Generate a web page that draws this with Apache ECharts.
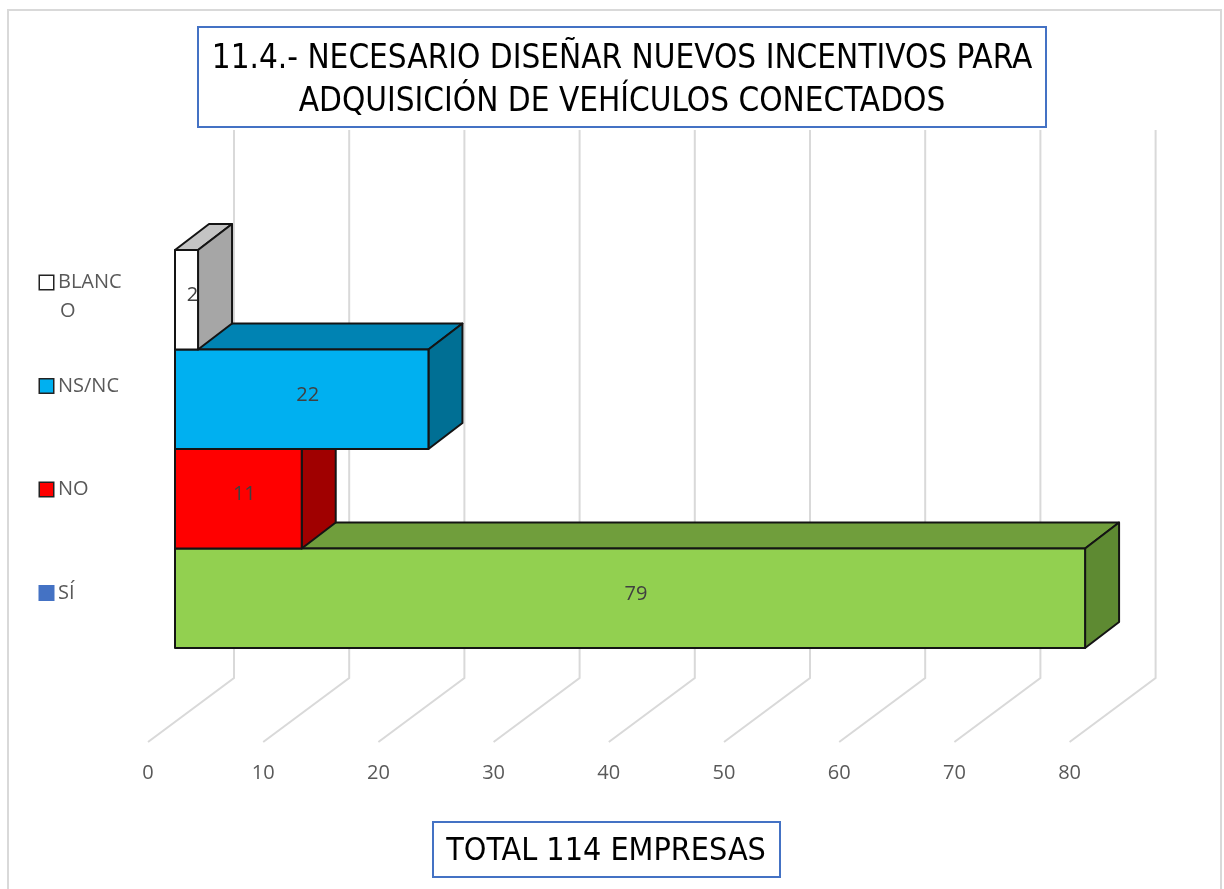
<!DOCTYPE html>
<html>
<head>
<meta charset="utf-8">
<title>11.4 Incentivos vehiculos conectados</title>
<script src="https://cdn.jsdelivr.net/npm/echarts@6/dist/echarts.min.js"></script>
<style>
    html, body { margin: 0; padding: 0; background: #fff; }
    #main { width: 1224px; height: 889px; }
</style>
</head>
<body>
<div id="main"></div>
<script>

// datos (de abajo hacia arriba, como en el eje de categorias)
var categorias = ['SÍ', 'NO', 'NS/NC', 'BLANCO'];
var valores = [79, 11, 22, 2];
var ticks = [0, 10, 20, 30, 40, 50, 60, 70, 80];

var titulo = '11.4.- NECESARIO DISEÑAR NUEVOS INCENTIVOS PARA\nADQUISICIÓN DE VEHÍCULOS CONECTADOS';
var total = 'TOTAL 114 EMPRESAS';

// colores de las caras: frontal, superior, lateral
var colorFrente = ['#92D050', '#FF0000', '#00B0F0', '#FFFFFF'];
var colorArriba = ['#709E3C', '#C00000', '#0083B3', '#C4C4C4'];
var colorLado = ['#5E8A32', '#A00000', '#006F94', '#A6A6A6'];
var colorLeyenda = ['#4472C4', '#FF0000', '#00B0F0', '#FFFFFF'];
var bordeLeyenda = ['#4472C4', '#222222', '#222222', '#222222'];

var fuente = '"Open Sans", "Liberation Sans", sans-serif';
var fuenteTitulo = '"Liberation Sans Narrow", "DejaVu Sans Condensed", "Liberation Sans", sans-serif';

var DX = 34, DY = -26;   // profundidad de las barras

var myChart = echarts.init(document.getElementById('main'));

// estilos rich para la leyenda (eje Y del grid 2)
var rich = {
    t: { fontSize: 20, fontFamily: fuente, color: '#595959', lineHeight: 29, padding: [0, 0, 0, 5] },
    sp: { width: 15, height: 29 }
};
categorias.forEach(function (c, i) {
    rich['m' + i] = {
        width: 13, height: 13,
        backgroundColor: colorLeyenda[i],
        borderColor: bordeLeyenda[i],
        borderWidth: 1.5,
        verticalAlign: 'middle'
    };
});

function rejilla(params, api) {
    var cs = params.coordSys;
    var x = api.coord([api.value(0), 0])[0];
    var top = cs.y - 120;
    var fondo = cs.y + cs.height + 30;
    var bx = x + 59;
    return {
        type: 'polyline',
        shape: { points: [[bx, top], [bx, fondo], [x - 27, fondo + 64]] },
        style: { stroke: '#D9D9D9', lineWidth: 2, fill: null },
        silent: true
    };
}

function barra3d(params, api) {
    var i = params.dataIndex;
    var v = api.value(0);
    var c = api.value(1);
    var p0 = api.coord([0, c]);
    var p1 = api.coord([v, c]);
    var h = api.size([0, 1])[1];
    var x0 = p0[0], x1 = p1[0];
    var yt = p0[1] - h / 2, yb = p0[1] + h / 2;
    var linea = { stroke: '#141414', lineWidth: 2, lineJoin: 'round' };
    return {
        type: 'group',
        children: [
            {
                type: 'polygon',
                shape: { points: [[x0, yt], [x1, yt], [x1 + DX, yt + DY], [x0 + DX, yt + DY]] },
                style: echarts.util.extend({ fill: colorArriba[i] }, linea)
            },
            {
                type: 'polygon',
                shape: { points: [[x1, yt], [x1, yb], [x1 + DX, yb + DY], [x1 + DX, yt + DY]] },
                style: echarts.util.extend({ fill: colorLado[i] }, linea)
            },
            {
                type: 'rect',
                shape: { x: x0, y: yt, width: x1 - x0, height: yb - yt },
                style: echarts.util.extend({ fill: colorFrente[i] }, linea)
            },
            {
                type: 'text',
                style: {
                    text: String(v),
                    x: (x0 + x1) / 2 + 6, y: p0[1] - 4,
                    align: 'center', verticalAlign: 'middle',
                    fill: '#404040', fontSize: 20, fontFamily: fuente
                }
            }
        ]
    };
}

var option = {
    backgroundColor: '#fff',
    animation: false,
    grid: [
        { left: 175, width: 921.6, top: 250, height: 398 },
        { left: 148, width: 921.6, top: 700, height: 42 },
        { left: 175, width: 10, top: 230.75, height: 414 }
    ],
    xAxis: [
        { gridIndex: 0, type: 'value', min: 0, max: 80, interval: 10, show: false },
        {
            gridIndex: 1, type: 'value', min: 0, max: 80, interval: 10,
            axisLine: { show: false }, axisTick: { show: false }, splitLine: { show: false },
            axisLabel: { margin: 21, fontSize: 20, fontFamily: fuente, color: '#595959' }
        },
        { gridIndex: 2, type: 'value', show: false }
    ],
    yAxis: [
        { gridIndex: 0, type: 'category', data: categorias, show: false },
        { gridIndex: 1, type: 'value', show: false },
        {
            gridIndex: 2, type: 'category', data: categorias,
            axisLine: { show: false }, axisTick: { show: false }, splitLine: { show: false },
            axisLabel: {
                margin: 135, align: 'left', rich: rich,
                formatter: function (val, idx) {
                    if (val == 'BLANCO') {
                        // primera linea vacia para que "BLANC" quede en el centro
                        return '{sp|}\n{m3|}{t|BLANC}\n{sp|}{t|O}';
                    }
                    return '{m' + idx + '|}{t|' + val + '}';
                }
            }
        }
    ],
    series: [
        {
            type: 'custom',
            name: 'rejilla',
            xAxisIndex: 0, yAxisIndex: 0,
            renderItem: rejilla,
            data: ticks.map(function (t) { return [t, 0]; }),
            z: 1, silent: true
        },
        {
            type: 'custom',
            name: 'Empresas',
            xAxisIndex: 0, yAxisIndex: 0,
            renderItem: barra3d,
            encode: { x: 0, y: 1 },
            data: valores.map(function (v, i) { return [v, i]; }),
            z: 2
        }
    ],
    graphic: [
        {
            type: 'rect', z: -1, silent: true,
            shape: { x: 8, y: 10, width: 1213, height: 890 },
            style: { fill: null, stroke: '#D9D9D9', lineWidth: 2 }
        },
        {
            type: 'rect', silent: true,
            shape: { x: 198, y: 27, width: 848, height: 100 },
            style: { fill: '#fff', stroke: '#4472C4', lineWidth: 2 }
        },
        {
            type: 'text', silent: true,
            style: {
                text: titulo, x: 622, y: 81, align: 'center', verticalAlign: 'middle',
                fontSize: 33, lineHeight: 43, fontFamily: fuenteTitulo, fill: '#000'
            }
        },
        {
            type: 'rect', silent: true,
            shape: { x: 433, y: 822, width: 347, height: 55 },
            style: { fill: '#fff', stroke: '#4472C4', lineWidth: 2 }
        },
        {
            type: 'text', silent: true,
            style: {
                text: total, x: 606, y: 852, align: 'center', verticalAlign: 'middle',
                fontSize: 32, fontFamily: fuenteTitulo, fill: '#000'
            }
        }
    ]
};

myChart.setOption(option);

</script>
</body>
</html>
